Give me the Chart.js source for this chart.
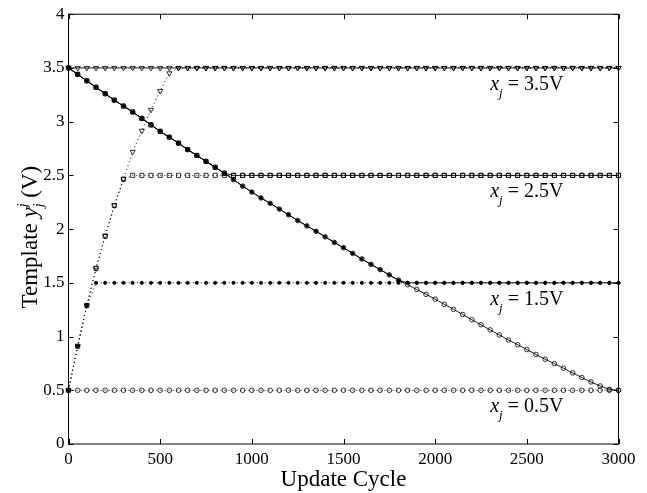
<!DOCTYPE html>
<html>
<head>
<meta charset="utf-8">
<script src="https://cdn.jsdelivr.net/npm/chart.js@4.4.0/dist/chart.umd.min.js"></script>
<style>
html, body { margin: 0; padding: 0; background: #fff; }
#wrap { width: 647px; height: 493px; }
</style>
</head>
<body>
<div id="wrap"><canvas id="chart" width="647" height="493"></canvas></div>
<script>
// update cycles, one marker every 50
var cycles = [
	0, 50, 100, 150, 200, 250, 300, 350, 400, 450,
	500, 550, 600, 650, 700, 750, 800, 850, 900, 950,
	1000, 1050, 1100, 1150, 1200, 1250, 1300, 1350, 1400, 1450,
	1500, 1550, 1600, 1650, 1700, 1750, 1800, 1850, 1900, 1950,
	2000, 2050, 2100, 2150, 2200, 2250, 2300, 2350, 2400, 2450,
	2500, 2550, 2600, 2650, 2700, 2750, 2800, 2850, 2900, 2950,
	3000
];

// templates starting at 0.5 V (dotted)
var up35 = [
	0.5, 0.91, 1.29, 1.635, 1.935, 2.22, 2.465, 2.72, 2.915, 3.11,
	3.285, 3.45, 3.5, 3.5, 3.5, 3.5, 3.5, 3.5, 3.5, 3.5,
	3.5, 3.5, 3.5, 3.5, 3.5, 3.5, 3.5, 3.5, 3.5, 3.5,
	3.5, 3.5, 3.5, 3.5, 3.5, 3.5, 3.5, 3.5, 3.5, 3.5,
	3.5, 3.5, 3.5, 3.5, 3.5, 3.5, 3.5, 3.5, 3.5, 3.5,
	3.5, 3.5, 3.5, 3.5, 3.5, 3.5, 3.5, 3.5, 3.5, 3.5,
	3.5
];
var up25 = [
	0.5, 0.91, 1.29, 1.635, 1.935, 2.22, 2.465, 2.5, 2.5, 2.5,
	2.5, 2.5, 2.5, 2.5, 2.5, 2.5, 2.5, 2.5, 2.5, 2.5,
	2.5, 2.5, 2.5, 2.5, 2.5, 2.5, 2.5, 2.5, 2.5, 2.5,
	2.5, 2.5, 2.5, 2.5, 2.5, 2.5, 2.5, 2.5, 2.5, 2.5,
	2.5, 2.5, 2.5, 2.5, 2.5, 2.5, 2.5, 2.5, 2.5, 2.5,
	2.5, 2.5, 2.5, 2.5, 2.5, 2.5, 2.5, 2.5, 2.5, 2.5,
	2.5
];
var up15 = [
	0.5, 0.91, 1.29, 1.5, 1.5, 1.5, 1.5, 1.5, 1.5, 1.5,
	1.5, 1.5, 1.5, 1.5, 1.5, 1.5, 1.5, 1.5, 1.5, 1.5,
	1.5, 1.5, 1.5, 1.5, 1.5, 1.5, 1.5, 1.5, 1.5, 1.5,
	1.5, 1.5, 1.5, 1.5, 1.5, 1.5, 1.5, 1.5, 1.5, 1.5,
	1.5, 1.5, 1.5, 1.5, 1.5, 1.5, 1.5, 1.5, 1.5, 1.5,
	1.5, 1.5, 1.5, 1.5, 1.5, 1.5, 1.5, 1.5, 1.5, 1.5,
	1.5
];
var up05 = [
	0.5, 0.5, 0.5, 0.5, 0.5, 0.5, 0.5, 0.5, 0.5, 0.5,
	0.5, 0.5, 0.5, 0.5, 0.5, 0.5, 0.5, 0.5, 0.5, 0.5,
	0.5, 0.5, 0.5, 0.5, 0.5, 0.5, 0.5, 0.5, 0.5, 0.5,
	0.5, 0.5, 0.5, 0.5, 0.5, 0.5, 0.5, 0.5, 0.5, 0.5,
	0.5, 0.5, 0.5, 0.5, 0.5, 0.5, 0.5, 0.5, 0.5, 0.5,
	0.5, 0.5, 0.5, 0.5, 0.5, 0.5, 0.5, 0.5, 0.5, 0.5,
	0.5
];

// templates starting at 3.5 V (solid)
var down35 = [
	3.5, 3.5, 3.5, 3.5, 3.5, 3.5, 3.5, 3.5, 3.5, 3.5,
	3.5, 3.5, 3.5, 3.5, 3.5, 3.5, 3.5, 3.5, 3.5, 3.5,
	3.5, 3.5, 3.5, 3.5, 3.5, 3.5, 3.5, 3.5, 3.5, 3.5,
	3.5, 3.5, 3.5, 3.5, 3.5, 3.5, 3.5, 3.5, 3.5, 3.5,
	3.5, 3.5, 3.5, 3.5, 3.5, 3.5, 3.5, 3.5, 3.5, 3.5,
	3.5, 3.5, 3.5, 3.5, 3.5, 3.5, 3.5, 3.5, 3.5, 3.5,
	3.5
];
var down25 = [
	3.5, 3.44, 3.38, 3.32, 3.26, 3.2, 3.145, 3.09, 3.03, 2.97,
	2.91, 2.855, 2.8, 2.74, 2.685, 2.63, 2.575, 2.52, 2.5, 2.5,
	2.5, 2.5, 2.5, 2.5, 2.5, 2.5, 2.5, 2.5, 2.5, 2.5,
	2.5, 2.5, 2.5, 2.5, 2.5, 2.5, 2.5, 2.5, 2.5, 2.5,
	2.5, 2.5, 2.5, 2.5, 2.5, 2.5, 2.5, 2.5, 2.5, 2.5,
	2.5, 2.5, 2.5, 2.5, 2.5, 2.5, 2.5, 2.5, 2.5, 2.5,
	2.5
];
var down15 = [
	3.5, 3.44, 3.38, 3.32, 3.26, 3.2, 3.145, 3.09, 3.03, 2.97,
	2.91, 2.855, 2.8, 2.74, 2.685, 2.63, 2.575, 2.52, 2.46, 2.4,
	2.345, 2.29, 2.24, 2.187, 2.134, 2.08, 2.03, 1.98, 1.928, 1.876,
	1.827, 1.774, 1.722, 1.672, 1.623, 1.574, 1.525, 1.5, 1.5, 1.5,
	1.5, 1.5, 1.5, 1.5, 1.5, 1.5, 1.5, 1.5, 1.5, 1.5,
	1.5, 1.5, 1.5, 1.5, 1.5, 1.5, 1.5, 1.5, 1.5, 1.5,
	1.5
];
var down05 = [
	3.5, 3.44, 3.38, 3.32, 3.26, 3.2, 3.145, 3.09, 3.03, 2.97,
	2.91, 2.855, 2.8, 2.74, 2.685, 2.63, 2.575, 2.52, 2.46, 2.4,
	2.345, 2.29, 2.24, 2.187, 2.134, 2.08, 2.03, 1.98, 1.928, 1.876,
	1.827, 1.774, 1.722, 1.672, 1.623, 1.574, 1.525, 1.482, 1.438, 1.393,
	1.348, 1.3, 1.253, 1.205, 1.157, 1.11, 1.062, 1.015, 0.968, 0.924,
	0.879, 0.833, 0.789, 0.748, 0.705, 0.662, 0.619, 0.578, 0.54, 0.508,
	0.5
];

// curve annotations
var labelLevels = [3.5, 2.5, 1.5, 0.5];
var labelTexts = ['3.5V', '2.5V', '1.5V', '0.5V'];
var labelCycle = 2300;

var SERIF = '"Liberation Serif", "DejaVu Serif", serif';
Chart.defaults.font.family = SERIF;
Chart.defaults.color = '#000';

function pts(values) {
	return values.map(function(v, i) { return { x: cycles[i], y: v }; });
}

function series(values, style, dotted) {
	var s = {
		data: pts(values),
		borderColor: '#000',
		borderWidth: dotted ? 1 : 0.9,
		borderDash: dotted ? [1, 3] : [],
		pointBorderColor: '#000',
		pointBorderWidth: 0.8,
		pointBackgroundColor: 'rgba(0,0,0,0)',
		pointRadius: 2.6,
		pointStyle: 'circle',
		pointRotation: 0,
		tension: 0,
		clip: false
	};
	if (style === 'tri') { s.pointStyle = 'triangle'; s.pointRotation = 180; s.pointRadius = 3; }
	if (style === 'sq') { s.pointStyle = 'rect'; s.pointRadius = 2.9; }
	if (style === 'dot') { s.pointRadius = 1.6; s.pointBackgroundColor = '#000'; }
	if (style === 'circ') { s.pointRadius = 2.3; }
	return s;
}

function richText(ctx, parts, x, y, align) {
	var w = 0;
	parts.forEach(function(p) {
		ctx.font = p.font;
		p.w = ctx.measureText(p.t).width;
		if (!p.stack) w += p.w;
	});
	var cx = align === 'center' ? x - w / 2 : x;
	parts.forEach(function(p) {
		ctx.font = p.font;
		ctx.fillText(p.t, cx, y + (p.dy || 0));
		if (!p.stack) cx += p.w;
	});
}

var framePlugin = {
	id: 'frame',
	afterDraw: function(chart) {
		var ctx = chart.ctx, a = chart.chartArea;
		var xs = chart.scales.x, ys = chart.scales.y;
		ctx.save();
		ctx.strokeStyle = '#000';
		ctx.lineWidth = 1;
		ctx.strokeRect(a.left, a.top, a.right - a.left, a.bottom - a.top);

		// inward ticks on all four sides
		ctx.beginPath();
		xs.ticks.forEach(function(t) {
			var px = Math.round(xs.getPixelForValue(t.value)) + 0.5;
			ctx.moveTo(px, a.bottom); ctx.lineTo(px, a.bottom - 5);
			ctx.moveTo(px, a.top); ctx.lineTo(px, a.top + 5);
		});
		ys.ticks.forEach(function(t) {
			var py = Math.round(ys.getPixelForValue(t.value)) + 0.5;
			ctx.moveTo(a.left, py); ctx.lineTo(a.left + 5, py);
			ctx.moveTo(a.right, py); ctx.lineTo(a.right - 5, py);
		});
		ctx.stroke();

		ctx.fillStyle = '#000';
		ctx.textBaseline = 'alphabetic';
		ctx.textAlign = 'left';

		// x_j = ... labels under each level
		labelLevels.forEach(function(lv, i) {
			var px = xs.getPixelForValue(labelCycle);
			var py = ys.getPixelForValue(lv) + 22;
			richText(ctx, [
				{ t: 'x', font: 'italic 20px ' + SERIF },
				{ t: 'j', font: 'italic 13px ' + SERIF, dy: 7 },
				{ t: ' = ' + labelTexts[i], font: '20px ' + SERIF }
			], px, py, 'left');
		});

		// axis titles
		richText(ctx, [{ t: 'Update Cycle', font: '23px ' + SERIF }],
			(a.left + a.right) / 2, 486, 'center');

		ctx.translate(37, (a.top + a.bottom) / 2 + 8);
		ctx.rotate(-Math.PI / 2);
		richText(ctx, [
			{ t: 'Template ', font: '23px ' + SERIF },
			{ t: 'y', font: 'italic 23px ' + SERIF },
			{ t: 'j', font: 'italic 14px ' + SERIF, dy: -10, stack: true },
			{ t: 'j', font: 'italic 14px ' + SERIF, dy: 6 },
			{ t: ' (V)', font: '23px ' + SERIF }
		], 0, 0, 'center');
		ctx.restore();
	}
};

new Chart(document.getElementById('chart'), {
	type: 'line',
	data: {
		datasets: [
			series(up05, 'circ', true),
			series(up15, 'dot', true),
			series(up25, 'sq', true),
			series(up35, 'tri', true),
			series(down35, 'tri', false),
			series(down25, 'sq', false),
			series(down15, 'dot', false),
			series(down05, 'circ', false)
		]
	},
	options: {
		responsive: false,
		animation: false,
		layout: { padding: { top: 12, right: 28.5, left: 0, bottom: 0 } },
		plugins: { legend: { display: false }, tooltip: { enabled: false } },
		scales: {
			x: {
				type: 'linear',
				min: 0,
				max: 3000,
				grid: { display: false, drawTicks: false },
				border: { display: false },
				ticks: { stepSize: 500, padding: 5, font: { size: 17 }, maxRotation: 0,
					callback: function(v) { return String(v); } },
				afterFit: function(scale) { scale.height = 49; }
			},
			y: {
				min: 0,
				max: 4,
				grid: { display: false, drawTicks: false },
				border: { display: false },
				ticks: { stepSize: 0.5, padding: 4, font: { size: 17 },
					callback: function(v) { return String(v); } },
				afterFit: function(scale) { scale.width = 68.5; }
			}
		}
	},
	plugins: [framePlugin]
});
</script>
</body>
</html>
